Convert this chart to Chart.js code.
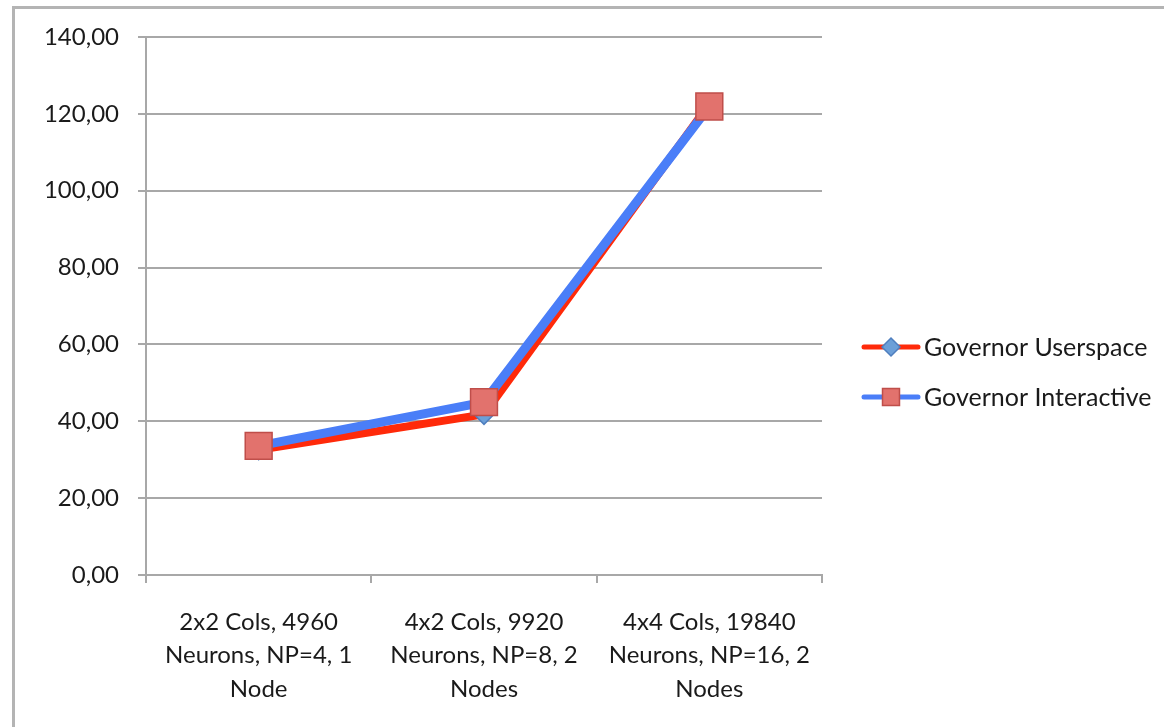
<!DOCTYPE html>
<html>
<head>
<meta charset="utf-8">
<script src="https://cdn.jsdelivr.net/npm/chart.js@4.4.1/dist/chart.umd.min.js"></script>
<style>
  html, body { margin: 0; padding: 0; background: #ffffff; }
  #wrap { position: relative; width: 1164px; height: 727px; overflow: hidden; }
  #frame { position: absolute; left: 12px; top: 6px; right: -10px; bottom: -10px;
           border-top: 3px solid #b4b4b4; border-left: 3px solid #b4b4b4; pointer-events: none; }
  #chartBox { position: absolute; left: 0; top: 0; width: 1164px; height: 727px; }
</style>
</head>
<body>
<div id="wrap">
  <div id="chartBox"><canvas id="c"></canvas></div>
  <div id="frame"></div>
</div>
<script>
// Run configurations on the x axis (multi-line labels)
const categories = [
  ['2x2 Cols, 4960', 'Neurons, NP=4, 1', 'Node'],
  ['4x2 Cols, 9920', 'Neurons, NP=8, 2', 'Nodes'],
  ['4x4 Cols, 19840', 'Neurons, NP=16, 2', 'Nodes']
];

// Measured values per governor
const governorUserspace = [32.6, 41.8, 122.6];
const governorInteractive = [33.6, 45.0, 121.9];

const seriesNames = ['Governor Userspace', 'Governor Interactive'];

// Y axis range and ticks
const yMin = 0;
const yMax = 140;
const yStep = 20;

const FONT = 'Lato, Carlito, "Open Sans", sans-serif';

// Legend showing a line sample with the point marker in the middle
const lineLegend = {
  id: 'lineLegend',
  afterDraw(chart, args, opts) {
    const ctx = chart.ctx;
    const x0 = chart.chartArea.right + opts.offsetX;
    chart.data.datasets.forEach((ds, i) => {
      const y = opts.top + i * opts.gap;
      ctx.save();
      ctx.strokeStyle = ds.borderColor;
      ctx.lineWidth = opts.lineWidth;
      ctx.lineCap = 'round';
      ctx.beginPath();
      ctx.moveTo(x0, y);
      ctx.lineTo(x0 + opts.sampleWidth, y);
      ctx.stroke();
      ctx.fillStyle = ds.pointBackgroundColor;
      ctx.strokeStyle = ds.pointBorderColor;
      ctx.lineWidth = 1.5;
      Chart.helpers.drawPoint(ctx, {
        pointStyle: ds.pointStyle,
        radius: opts.markerRadius[i],
        rotation: 0,
        borderWidth: 1.5
      }, x0 + opts.sampleWidth / 2, y);
      ctx.fillStyle = '#1a1a1a';
      ctx.font = opts.fontSize + 'px ' + FONT;
      ctx.textAlign = 'left';
      ctx.textBaseline = 'middle';
      ctx.fillText(ds.label, x0 + opts.sampleWidth + 6, y + 1);
      ctx.restore();
    });
  }
};

new Chart(document.getElementById('c'), {
  type: 'line',
  data: {
    labels: categories,
    datasets: [
      {
        label: seriesNames[0],
        data: governorUserspace,
        order: 2,
        borderColor: '#ff2a0a',
        borderWidth: 8,
        pointStyle: 'rectRot',
        pointRadius: 10,
        pointBackgroundColor: '#6c9fd8',
        pointBorderColor: '#4f7fbf',
        pointBorderWidth: 1.5,
        tension: 0
      },
      {
        label: seriesNames[1],
        data: governorInteractive,
        order: 1,
        borderColor: '#4a7ef8',
        borderWidth: 9,
        pointStyle: 'rect',
        pointRadius: 19,
        pointBackgroundColor: '#e2726d',
        pointBorderColor: '#bf4e4a',
        pointBorderWidth: 1.5,
        tension: 0
      }
    ]
  },
  options: {
    responsive: true,
    maintainAspectRatio: false,
    animation: false,
    layout: { padding: { left: 0, right: 342, top: 37, bottom: 0 } },
    plugins: {
      legend: { display: false },
      tooltip: { enabled: false },
      lineLegend: {
        offsetX: 42, top: 347, gap: 50, sampleWidth: 54, lineWidth: 5,
        markerRadius: [9, 12], fontSize: 25
      }
    },
    scales: {
      x: {
        type: 'category',
        offset: true,
        afterFit(s) { s.height = 152; },
        border: { display: true, color: '#a8a8a8', width: 2 },
        grid: { display: true, offset: true, drawOnChartArea: false, drawTicks: true,
                tickLength: 8, color: '#a8a8a8', lineWidth: 2 },
        ticks: { color: '#1a1a1a', padding: 22, maxRotation: 0, autoSkip: false,
                 font: { family: FONT, size: 24, lineHeight: 1.4 } }
      },
      y: {
        min: yMin,
        max: yMax,
        afterFit(s) { s.width = 146; },
        border: { display: true, color: '#a8a8a8', width: 2 },
        grid: { color: '#a8a8a8', lineWidth: 2, tickLength: 8, drawTicks: true },
        ticks: {
          stepSize: yStep,
          padding: 19,
          color: '#1a1a1a',
          font: { family: FONT, size: 24 },
          callback: v => v.toFixed(2).replace('.', ',')
        }
      }
    }
  },
  plugins: [lineLegend]
});
</script>
</body>
</html>
